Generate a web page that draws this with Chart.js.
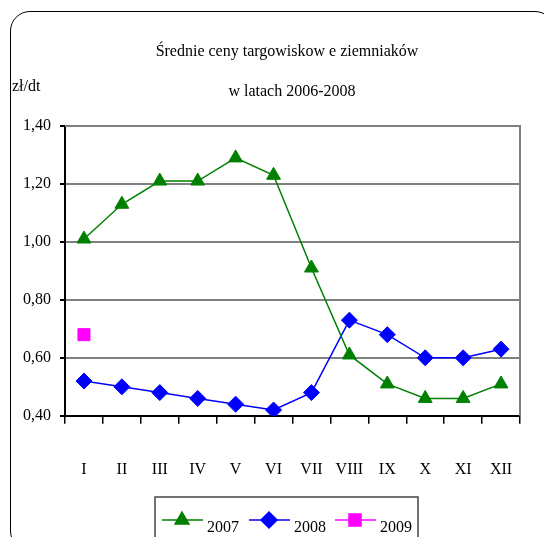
<!DOCTYPE html>
<html>
<head>
<meta charset="utf-8">
<script src="https://cdn.jsdelivr.net/npm/chart.js@4/dist/chart.umd.min.js"></script>
<style>
  html, body { margin: 0; padding: 0; background: #fff; overflow: hidden; }
  #wrap { position: relative; width: 544px; height: 537px; }
  #frame {
    position: absolute; left: 10px; top: 11px; width: 545px; height: 540px;
    border: 1.5px solid #000; border-radius: 20px; box-sizing: border-box;
  }
  canvas { position: absolute; left: 0; top: 0; }
</style>
</head>
<body>
<div id="wrap">
  <div id="frame"></div>
  <canvas id="myChart" width="544" height="537"></canvas>
</div>
<script>
const months = ["I", "II", "III", "IV", "V", "VI", "VII", "VIII", "IX", "X", "XI", "XII"];
const prices2007 = [1.01, 1.13, 1.21, 1.21, 1.29, 1.23, 0.91, 0.61, 0.51, 0.46, 0.46, 0.51];
const prices2008 = [0.52, 0.50, 0.48, 0.46, 0.44, 0.42, 0.48, 0.73, 0.68, 0.60, 0.60, 0.63];
const prices2009 = [0.68, null, null, null, null, null, null, null, null, null, null, null];
const titleLines = ["Średnie ceny targowiskow e ziemniaków", "w latach 2006-2008"];
const unitLabel = "zł/dt";

const serif = "'Liberation Serif', 'DejaVu Serif', serif";

// title, unit, plot frame and boxed legend
const extras = {
  id: "extras",
  beforeDatasetsDraw(chart) {
    const { ctx, chartArea: a } = chart;
    ctx.save();
    ctx.strokeStyle = "#808080";
    ctx.lineWidth = 2;
    ctx.beginPath();
    ctx.moveTo(a.left, a.top);
    ctx.lineTo(a.right, a.top);
    ctx.lineTo(a.right, a.bottom);
    ctx.stroke();
    ctx.restore();
  },
  afterDraw(chart) {
    const ctx = chart.ctx;
    ctx.save();
    ctx.fillStyle = "#000";
    ctx.font = "16px " + serif;
    ctx.textAlign = "center";
    ctx.textBaseline = "middle";
    ctx.fillText(titleLines[0], 287, 52);
    ctx.fillText(titleLines[1], 292, 92);
    ctx.textAlign = "left";
    ctx.fillText(unitLabel, 12, 87);

    // legend box
    ctx.strokeStyle = "#444";
    ctx.lineWidth = 1.5;
    ctx.beginPath();
    ctx.moveTo(155, 545);
    ctx.lineTo(155, 497);
    ctx.lineTo(418, 497);
    ctx.lineTo(418, 545);
    ctx.stroke();

    const starts = [162, 249, 335];
    chart.data.datasets.forEach((ds, i) => {
      const x = starts[i];
      ctx.strokeStyle = ds.borderColor;
      ctx.lineWidth = 1.5;
      ctx.beginPath();
      ctx.moveTo(x, 520);
      ctx.lineTo(x + 41, 520);
      ctx.stroke();
      ctx.fillStyle = ds.backgroundColor;
      ctx.strokeStyle = ds.borderColor;
      Chart.helpers.drawPoint(ctx, {
        pointStyle: ds.pointStyle,
        radius: ds.pointRadius,
        borderWidth: 1,
        rotation: 0
      }, x + 20, 520);
      ctx.fillStyle = "#000";
      ctx.font = "16px " + serif;
      ctx.textAlign = "left";
      ctx.fillText(ds.label, x + 45, 528);
    });
    ctx.restore();
  }
};

const ctx = document.getElementById("myChart").getContext("2d");

const data = {
  labels: months,
  datasets: [
    {
      label: "2007",
      data: prices2007,
      borderColor: "#008000",
      backgroundColor: "#008000",
      borderWidth: 1.5,
      pointStyle: "triangle",
      pointRadius: 8,
      pointBorderWidth: 1,
      tension: 0,
    },
    {
      label: "2008",
      data: prices2008,
      borderColor: "#0000ff",
      backgroundColor: "#0000ff",
      borderWidth: 1.5,
      pointStyle: "rectRot",
      pointRadius: 8,
      pointBorderWidth: 1,
      tension: 0,
    },
    {
      label: "2009",
      data: prices2009,
      borderColor: "#ff00ff",
      backgroundColor: "#ff00ff",
      borderWidth: 1.5,
      pointStyle: "rect",
      pointRadius: 8.5,
      pointBorderWidth: 1,
      tension: 0,
    },
  ],
};

const config = {
  type: "line",
  data: data,
  plugins: [extras],
  options: {
    responsive: false,
    animation: false,
    layout: {
      padding: { left: 14, right: 24, top: 126, bottom: 22 },
    },
    plugins: {
      legend: { display: false },
      tooltip: { enabled: false },
    },
    scales: {
      x: {
        offset: true,
        afterFit: function (scale) {
          scale.paddingLeft = 0;
          scale.paddingRight = 0;
        },
        grid: {
          offset: true,
          drawOnChartArea: false,
          drawTicks: true,
          tickLength: 8,
          color: "#000",
          lineWidth: 1.5,
        },
        border: { color: "#000", width: 2 },
        ticks: {
          color: "#000",
          padding: 36,
          font: { family: serif, size: 16 },
          maxRotation: 0,
          autoSkip: false,
        },
      },
      y: {
        min: 0.4,
        max: 1.4,
        grid: {
          color: "#808080",
          lineWidth: 2,
          tickLength: 5,
          tickColor: "#000",
        },
        border: { color: "#000", width: 2 },
        ticks: {
          stepSize: 0.2,
          color: "#000",
          padding: 9,
          font: { family: serif, size: 16 },
          callback: function (value) {
            return value.toFixed(2).replace(".", ",");
          },
        },
      },
    },
  },
};

const myChart = new Chart(ctx, config);
</script>
</body>
</html>
